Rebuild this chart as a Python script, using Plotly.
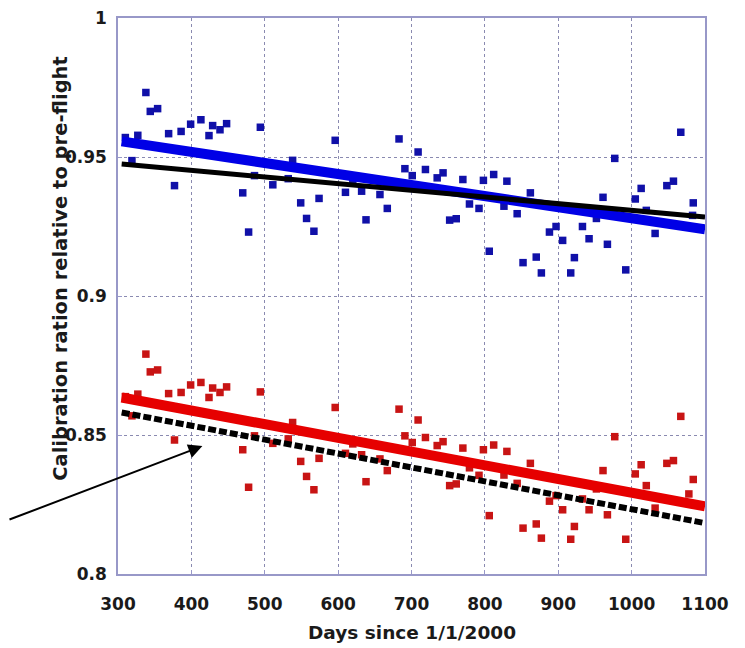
import plotly.graph_objects as go

# ---- data ----
blue_days = [310, 319, 327, 338, 344, 354, 369, 377, 386, 399, 413, 424, 429, 439, 448,
             470, 478, 486, 494, 511, 532, 538, 549, 557, 567, 574, 596, 610, 620, 632,
             638, 657, 667, 683, 691, 701, 709, 719, 735, 743, 752, 761, 770, 779, 792,
             798, 806, 812, 826, 830, 844, 852, 862, 870, 877, 888, 897, 906, 917, 922,
             933, 942, 952, 961, 967, 977, 992, 1005, 1013, 1020, 1032, 1048, 1057, 1067,
             1083, 1084]
blue_vals = [0.957, 0.9487, 0.9578, 0.9732, 0.9664, 0.9674, 0.9584, 0.9397, 0.9592, 0.9618,
             0.9634, 0.9577, 0.9613, 0.9598, 0.962, 0.9371, 0.923, 0.9433, 0.9607, 0.940,
             0.9422, 0.9488, 0.9335, 0.9279, 0.9233, 0.9351, 0.956, 0.9373, 0.9413, 0.9377,
             0.9274, 0.9365, 0.9315, 0.9565, 0.9458, 0.9433, 0.9518, 0.9455, 0.9425, 0.9443,
             0.9273, 0.9278, 0.9419, 0.9331, 0.9315, 0.9416, 0.9161, 0.9437, 0.9323, 0.9413,
             0.9296, 0.912, 0.9371, 0.914, 0.9083, 0.923, 0.925, 0.920, 0.9083, 0.9138,
             0.925, 0.9206, 0.9279, 0.9355, 0.9186, 0.9495, 0.9094, 0.9349, 0.9387, 0.9308,
             0.9225, 0.9397, 0.9413, 0.9589, 0.929, 0.9335]

red_days = [310, 319, 327, 338, 344, 354, 369, 377, 386, 399, 413, 424, 429, 439, 448,
            470, 478, 486, 494, 511, 532, 538, 549, 557, 567, 574, 596, 610, 620, 632,
            638, 657, 667, 683, 691, 701, 709, 719, 735, 743, 752, 761, 770, 779, 792,
            798, 806, 812, 826, 830, 844, 852, 862, 870, 877, 888, 897, 906, 917, 922,
            933, 942, 952, 961, 967, 977, 992, 1005, 1013, 1020, 1032, 1048, 1057, 1067,
            1078, 1084]
red_vals = [0.8638, 0.8569, 0.8647, 0.8791, 0.8727, 0.8734, 0.8649, 0.8482, 0.8653, 0.868,
            0.8689, 0.8635, 0.8669, 0.8653, 0.8673, 0.8447, 0.8312, 0.8497, 0.8655, 0.847,
            0.8486, 0.8545, 0.8405, 0.8351, 0.8303, 0.8416, 0.8599, 0.8434, 0.8468, 0.8429,
            0.8332, 0.8414, 0.8372, 0.8593, 0.8497, 0.8473, 0.8554, 0.8491, 0.8462, 0.8476,
            0.8318, 0.8324, 0.8453, 0.8382, 0.8355, 0.8447, 0.821, 0.8464, 0.8356, 0.8441,
            0.8326, 0.8165, 0.8398, 0.818, 0.8129, 0.8262, 0.8282, 0.8231, 0.8125, 0.8171,
            0.827, 0.8231, 0.8306, 0.8372, 0.8213, 0.8494, 0.8125, 0.836, 0.8393, 0.8318,
            0.8237, 0.8398, 0.8408, 0.8567, 0.8288, 0.834]

fit_days = [305, 1100]
blue_fit = [0.9556, 0.9240]
blue_model = [0.9475, 0.9284]
red_fit = [0.8635, 0.8243]
red_model = [0.8581, 0.8183]

x_ticks = [300, 400, 500, 600, 700, 800, 900, 1000, 1100]
y_ticks = [0.8, 0.85, 0.9, 0.95, 1.0]
y_tick_labels = ["0.8", "0.85", "0.9", "0.95", "1"]

arrow_tip = (415, 0.846)

FONT = "DejaVu Sans"
TXT = "#1a1a1a"

fig = go.Figure()

fig.add_trace(go.Scatter(x=blue_days, y=blue_vals, mode="markers",
                         marker=dict(symbol="square", size=7.5, color="#1010a8"),
                         showlegend=False))
fig.add_trace(go.Scatter(x=red_days, y=red_vals, mode="markers",
                         marker=dict(symbol="square", size=7.5, color="#c81414"),
                         showlegend=False))
fig.add_trace(go.Scatter(x=fit_days, y=blue_fit, mode="lines",
                         line=dict(color="#0000e6", width=10), showlegend=False))
fig.add_trace(go.Scatter(x=fit_days, y=blue_model, mode="lines",
                         line=dict(color="black", width=5), showlegend=False))
fig.add_trace(go.Scatter(x=fit_days, y=red_fit, mode="lines",
                         line=dict(color="#e60000", width=10), showlegend=False))
fig.add_trace(go.Scatter(x=fit_days, y=red_model, mode="lines",
                         line=dict(color="black", width=6, dash="8px,3px"),
                         showlegend=False))

axis_common = dict(
    showline=True, linecolor="#9898c8", linewidth=1.5, mirror=True,
    showgrid=True, gridcolor="#8a8ab0", griddash="dot", gridwidth=1,
    zeroline=False, ticks="inside", ticklen=4, tickcolor="#9898c8",
    tickfont=dict(family=FONT, size=17, color=TXT, weight="bold"),
    automargin=False, ticklabeloverflow="allow",
)

fig.update_xaxes(range=[300, 1100], tickvals=x_ticks,
                 ticktext=[str(v) for v in x_ticks], ticklabelstandoff=14,
                 **axis_common)
fig.update_yaxes(range=[0.8, 1.0], tickvals=y_ticks, ticktext=y_tick_labels,
                 ticklabelstandoff=6, **axis_common)

fig.add_annotation(x=arrow_tip[0], y=arrow_tip[1], xref="x", yref="y",
                   ax=-203, ay=74, axref="pixel", ayref="pixel",
                   text="", showarrow=True, arrowhead=2, arrowsize=1.4,
                   arrowwidth=2, arrowcolor="black")

fig.add_annotation(x=0.5, y=-0.106, xref="paper", yref="paper",
                   text="<b>Days since 1/1/2000</b>", showarrow=False,
                   font=dict(family=FONT, size=18.5, color=TXT),
                   xanchor="center", yanchor="middle")
fig.add_annotation(x=-0.097, y=0.549, xref="paper", yref="paper",
                   text="<b>Calibration ration relative to pre-flight</b>",
                   showarrow=False, textangle=-90,
                   font=dict(family=FONT, size=19.5, color=TXT),
                   xanchor="center", yanchor="middle")

# page body adds an 8px offset, so the figure is sized/margined to compensate
fig.update_layout(width=737, height=640,
                  margin=dict(l=110, r=40, t=10, b=74),
                  plot_bgcolor="white", paper_bgcolor="white")

fig.write_html("out.html")
